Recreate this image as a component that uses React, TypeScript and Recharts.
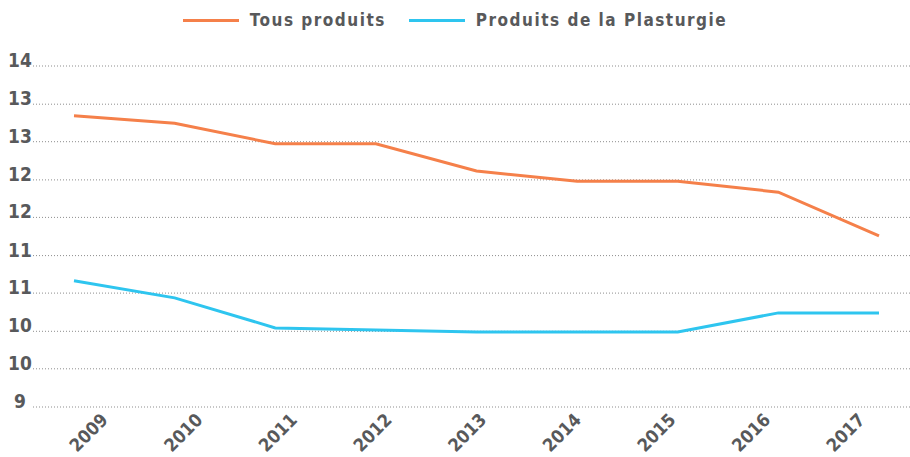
import React from "react";
import { LineChart, Line, XAxis, YAxis, CartesianGrid, Legend } from "recharts";

const years = ["2009", "2010", "2011", "2012", "2013", "2014", "2015", "2016", "2017"];
const tousProduits = [13.27, 13.16, 12.86, 12.86, 12.46, 12.31, 12.31, 12.15, 11.51];
const plasturgie = [10.85, 10.6, 10.16, 10.13, 10.1, 10.1, 10.1, 10.38, 10.38];
const yTicks = [9, 9.56, 10.11, 10.67, 11.22, 11.78, 12.33, 12.89, 13.44, 14];

const seriesNames = ["Tous produits", "Produits de la Plasturgie"];
const seriesColors = ["#f5804a", "#2ec5ef"];

const FONT = "'DejaVu Sans', sans-serif";
const TEXT = "#58595b";

const data = years.map((year, i) => ({
  year,
  tous: tousProduits[i],
  plast: plasturgie[i],
}));

const YTick = ({ x, y, payload }: any) => (
  <text
    x={x}
    y={y}
    dy={1}
    textAnchor="middle"
    fill={TEXT}
    fontSize={19}
    fontWeight={700}
    fontFamily={FONT}
    style={{ fontStretch: "condensed" }}
  >
    {Math.round(payload.value)}
  </text>
);

const XTick = ({ x, y, payload }: any) => (
  <text
    x={x}
    y={y}
    textAnchor="end"
    transform={`rotate(-45 ${x} ${y})`}
    fill={TEXT}
    fontSize={18}
    fontWeight={700}
    fontFamily={FONT}
    style={{ fontStretch: "condensed" }}
  >
    {payload.value}
  </text>
);

const renderLegend = () => (
  <div
    style={{
      height: 66,
      display: "flex",
      justifyContent: "center",
      alignItems: "flex-start",
      paddingTop: 8,
      boxSizing: "border-box",
      fontFamily: FONT,
      fontStretch: "condensed",
      fontWeight: 700,
      fontSize: 17,
      letterSpacing: 1.5,
      color: TEXT,
    }}
  >
    {seriesNames.map((name, i) => (
      <div key={name} style={{ display: "flex", alignItems: "center", marginLeft: i ? 23 : 0 }}>
        <span style={{ display: "inline-block", width: 56, height: 3, background: seriesColors[i], marginRight: 11 }} />
        <span style={{ lineHeight: "24px" }}>{name}</span>
      </div>
    ))}
  </div>
);

export default function App() {
  return (
    <div style={{ position: "absolute", left: 0, top: 0 }}>
      <LineChart width={910} height={457} data={data} margin={{ top: 0, right: 0, bottom: 0, left: 0 }}>
        <Legend verticalAlign="top" align="center" content={renderLegend} wrapperStyle={{ height: 66 }} />
        <CartesianGrid vertical={false} stroke="#8d8d8d" strokeDasharray="1 2" />
        <XAxis dataKey="year" hide height={0} padding={{ left: 41, right: 31 }} />
        <XAxis
          xAxisId="labels"
          dataKey="year"
          height={50}
          axisLine={false}
          tickLine={false}
          tickSize={0}
          tickMargin={14}
          interval={0}
          padding={{ left: 76, right: 44 }}
          tick={<XTick />}
        />
        <YAxis
          domain={[9, 14]}
          ticks={yTicks}
          width={33}
          axisLine={false}
          tickLine={false}
          tickSize={0}
          tickMargin={13}
          interval={0}
          tick={<YTick />}
        />
        <Line dataKey="tous" stroke={seriesColors[0]} strokeWidth={3} dot={false} isAnimationActive={false} />
        <Line dataKey="plast" stroke={seriesColors[1]} strokeWidth={3} dot={false} isAnimationActive={false} />
      </LineChart>
    </div>
  );
}
